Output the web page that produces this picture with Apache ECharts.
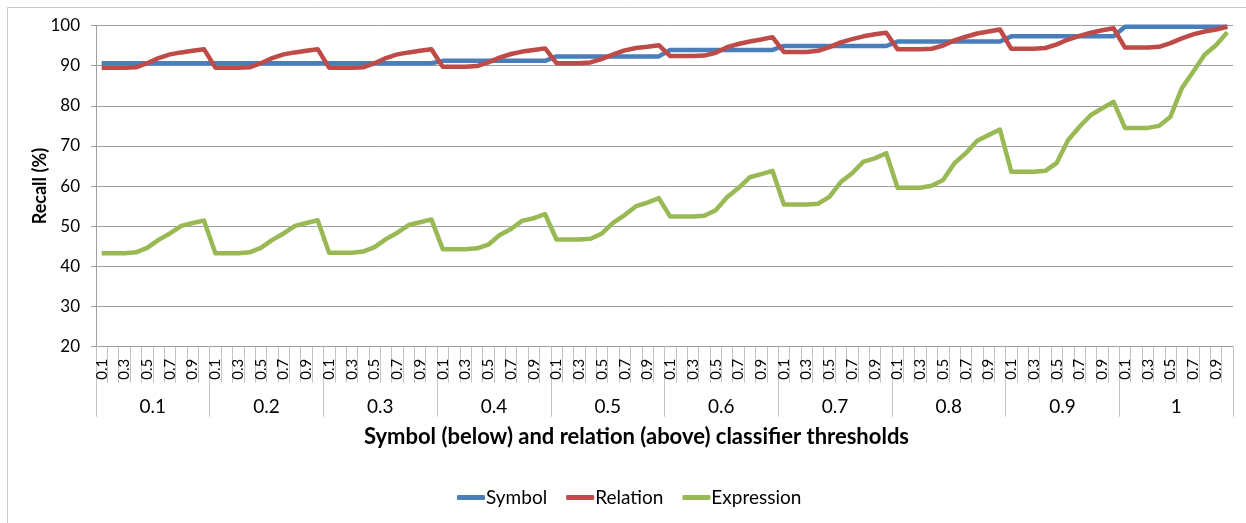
<!DOCTYPE html>
<html>
<head>
<meta charset="utf-8">
<title>Recall by classifier thresholds</title>
<script src="https://cdn.jsdelivr.net/npm/echarts@6/dist/echarts.min.js"></script>
<style>
  html, body { margin: 0; padding: 0; background: #ffffff; }
  #chart { width: 1246px; height: 523px; }
</style>
</head>
<body>
<div id="chart"></div>
<script>
// Outer (symbol) and inner (relation) classifier thresholds
const symbolThresholds = ['0.1', '0.2', '0.3', '0.4', '0.5', '0.6', '0.7', '0.8', '0.9', '1'];
const relationThresholds = ['0.1', '0.2', '0.3', '0.4', '0.5', '0.6', '0.7', '0.8', '0.9', '1'];

// Recall (%) – one row of ten values per symbol threshold
const symbolRecall = [
  90.6, 90.6, 90.6, 90.6, 90.6, 90.6, 90.6, 90.6, 90.6, 90.6,
  90.6, 90.6, 90.6, 90.6, 90.6, 90.6, 90.6, 90.6, 90.6, 90.6,
  90.6, 90.6, 90.6, 90.6, 90.6, 90.6, 90.6, 90.6, 90.6, 90.6,
  91.2, 91.2, 91.2, 91.2, 91.2, 91.2, 91.2, 91.2, 91.2, 91.2,
  92.3, 92.3, 92.3, 92.3, 92.3, 92.3, 92.3, 92.3, 92.3, 92.3,
  93.9, 93.9, 93.9, 93.9, 93.9, 93.9, 93.9, 93.9, 93.9, 93.9,
  94.9, 94.9, 94.9, 94.9, 94.9, 94.9, 94.9, 94.9, 94.9, 94.9,
  96.0, 96.0, 96.0, 96.0, 96.0, 96.0, 96.0, 96.0, 96.0, 96.0,
  97.3, 97.3, 97.3, 97.3, 97.3, 97.3, 97.3, 97.3, 97.3, 97.3,
  99.7, 99.7, 99.7, 99.7, 99.7, 99.7, 99.7, 99.7, 99.7, 99.7
];
const relationRecall = [
  89.5, 89.5, 89.5, 89.6, 90.6, 91.9, 92.8, 93.3, 93.7, 94.1,
  89.5, 89.5, 89.5, 89.6, 90.6, 91.9, 92.8, 93.3, 93.7, 94.1,
  89.5, 89.5, 89.5, 89.6, 90.6, 91.9, 92.8, 93.3, 93.7, 94.1,
  89.7, 89.7, 89.7, 89.9, 90.8, 92.0, 92.9, 93.5, 93.9, 94.3,
  90.6, 90.6, 90.6, 90.8, 91.7, 92.8, 93.8, 94.4, 94.7, 95.1,
  92.4, 92.4, 92.4, 92.5, 93.2, 94.6, 95.4, 96.0, 96.5, 97.1,
  93.4, 93.4, 93.4, 93.7, 94.6, 95.8, 96.6, 97.3, 97.8, 98.2,
  94.1, 94.1, 94.1, 94.2, 95.0, 96.3, 97.2, 98.0, 98.5, 99.0,
  94.2, 94.2, 94.2, 94.4, 95.3, 96.5, 97.4, 98.2, 98.8, 99.3,
  94.5, 94.5, 94.5, 94.7, 95.6, 96.8, 97.8, 98.5, 99.0, 99.7
];
const expressionRecall = [
  43.3, 43.3, 43.3, 43.5, 44.6, 46.6, 48.2, 50.1, 50.8, 51.4,
  43.3, 43.3, 43.3, 43.5, 44.6, 46.6, 48.2, 50.1, 50.8, 51.5,
  43.4, 43.4, 43.4, 43.7, 44.8, 46.8, 48.4, 50.3, 51.0, 51.7,
  44.3, 44.3, 44.3, 44.5, 45.4, 47.8, 49.3, 51.4, 52.0, 53.0,
  46.7, 46.7, 46.7, 46.9, 48.2, 50.9, 52.8, 55.0, 55.9, 57.0,
  52.4, 52.4, 52.4, 52.6, 54.0, 57.2, 59.5, 62.2, 63.0, 63.8,
  55.4, 55.4, 55.4, 55.6, 57.3, 61.0, 63.2, 66.1, 66.9, 68.2,
  59.6, 59.6, 59.6, 60.1, 61.5, 65.7, 68.2, 71.3, 72.7, 74.1,
  63.6, 63.6, 63.6, 63.8, 65.8, 71.5, 74.8, 77.7, 79.4, 81.0,
  74.5, 74.5, 74.5, 75.0, 77.3, 84.4, 88.5, 92.7, 95.1, 98.3
];
const yTicks = { min: 20, max: 100, step: 10 };

// Flat category list: each symbol threshold repeats all relation thresholds
const innerCategories = [];
symbolThresholds.forEach(function () {
  relationThresholds.forEach(function (r) { innerCategories.push(r); });
});

const FONT = 'Lato, "Open Sans", sans-serif';
const AXIS_GREY = '#a0a0a0';

const chart = echarts.init(document.getElementById('chart'), null, { renderer: 'canvas' });

chart.setOption({
  animation: false,
  backgroundColor: '#ffffff',
  textStyle: { fontFamily: FONT, color: '#000000' },
  graphic: [{
    type: 'rect',
    shape: { x: 7.5, y: 7.5, width: 1250, height: 530 },
    style: { fill: 'none', stroke: '#c8c8c8', lineWidth: 1 },
    silent: true,
    z: -1
  }],
  grid: { left: 96, right: 13, top: 25.5, bottom: 176.3, containLabel: false },
  legend: {
    data: ['Symbol', 'Relation', 'Expression'],
    left: 452,
    top: 483,
    icon: 'roundRect',
    itemWidth: 28,
    itemHeight: 5,
    itemGap: 19,
    textStyle: { fontFamily: FONT, fontSize: 19, color: '#000000', padding: [0, 0, 0, -4] }
  },
  xAxis: [
    {
      type: 'category',
      data: innerCategories,
      position: 'bottom',
      boundaryGap: true,
      axisLine: { show: true, lineStyle: { color: AXIS_GREY, width: 1 } },
      axisTick: { show: true, interval: 0, length: 36, lineStyle: { color: '#c4c4c4' } },
      axisLabel: {
        interval: 1,
        rotate: 90,
        margin: 12,
        fontFamily: FONT,
        fontSize: 15,
        color: '#000000'
      },
      splitLine: { show: false }
    },
    {
      type: 'category',
      data: symbolThresholds,
      position: 'bottom',
      boundaryGap: true,
      axisLine: { show: false },
      axisTick: { show: true, interval: 0, length: 70, lineStyle: { color: '#c4c4c4' } },
      axisLabel: {
        interval: 0,
        margin: 51,
        fontFamily: FONT,
        fontSize: 19,
        color: '#000000'
      },
      splitLine: { show: false },
      name: 'Symbol (below) and relation (above) classifier thresholds',
      nameLocation: 'middle',
      nameGap: 79,
      nameMoveOverlap: false,
      nameTextStyle: {
        fontFamily: FONT,
        fontSize: 22,
        fontWeight: 'bold',
        color: '#000000',
        padding: [0, 56, 0, 0]
      }
    }
  ],
  yAxis: {
    type: 'value',
    min: yTicks.min,
    max: yTicks.max,
    interval: yTicks.step,
    axisLine: { show: true, lineStyle: { color: AXIS_GREY } },
    axisTick: { show: true, length: 5, lineStyle: { color: AXIS_GREY } },
    axisLabel: { margin: 16, fontFamily: FONT, fontSize: 17, color: '#000000' },
    splitLine: { show: true, lineStyle: { color: AXIS_GREY, width: 1 } },
    name: 'Recall (%)',
    nameLocation: 'middle',
    nameGap: 47,
    nameRotate: 90,
    nameMoveOverlap: false,
    nameTextStyle: { fontFamily: FONT, fontSize: 18, fontWeight: 'bold', color: '#000000' }
  },
  series: [
    {
      name: 'Symbol',
      type: 'line',
      xAxisIndex: 0,
      data: symbolRecall,
      showSymbol: false,
      symbol: 'none',
      color: '#4a7ebb',
      lineStyle: { width: 4.5, color: '#4a7ebb', join: 'round' },
      z: 2
    },
    {
      name: 'Relation',
      type: 'line',
      xAxisIndex: 0,
      data: relationRecall,
      showSymbol: false,
      symbol: 'none',
      color: '#be4b48',
      lineStyle: { width: 4.5, color: '#be4b48', join: 'round' },
      z: 3
    },
    {
      name: 'Expression',
      type: 'line',
      xAxisIndex: 0,
      data: expressionRecall,
      showSymbol: false,
      symbol: 'none',
      color: '#98b954',
      lineStyle: { width: 4.5, color: '#98b954', join: 'round' },
      z: 4
    }
  ]
});
</script>
</body>
</html>
